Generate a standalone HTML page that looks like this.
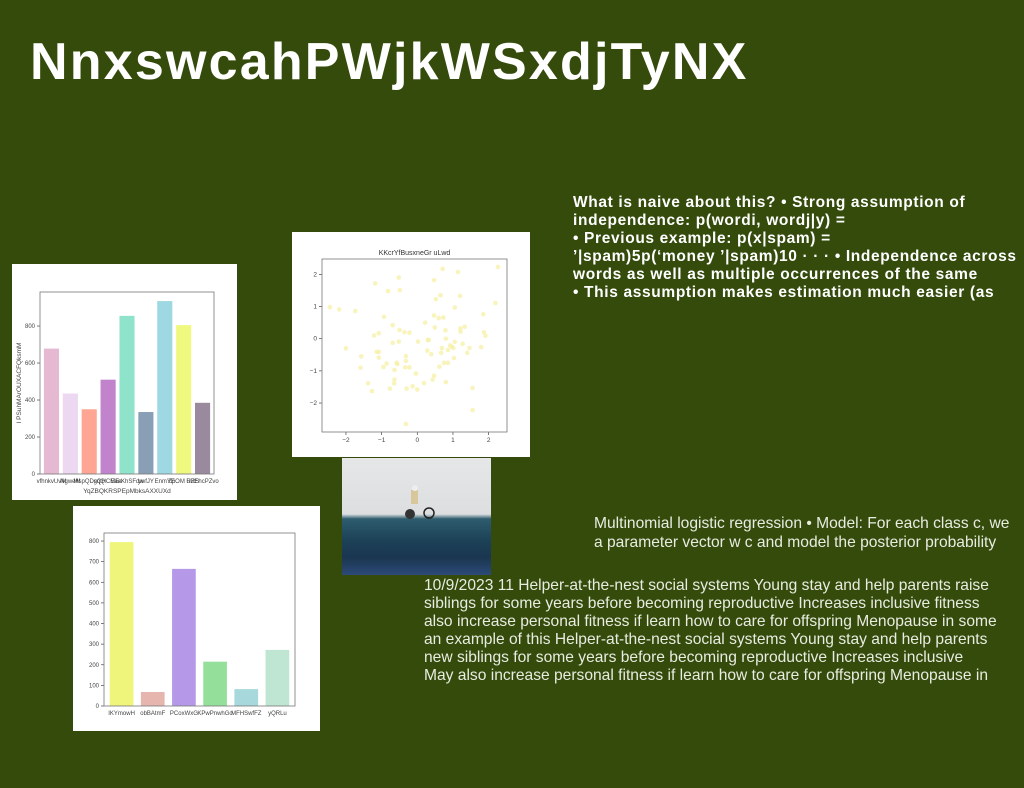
<!DOCTYPE html>
<html><head><meta charset="utf-8"><style>
body{margin:0;width:1024px;height:788px;background:#344b0c;position:relative;overflow:hidden;font-family:"Liberation Sans",sans-serif}
.abs{position:absolute}
.tl{position:absolute;white-space:nowrap}
.b{color:#fff;font-weight:bold;font-size:15.5px;letter-spacing:0.65px}
.r{color:#e9ece0;font-size:15.6px}
</style></head><body>
<div class="tl" style="left:30px;top:32px;font-size:52px;font-weight:bold;color:#fff;letter-spacing:2.2px">NnxswcahPWjkWSxdjTyNX</div>

<div>
<div class="tl b" style="left:573px;top:194px">What is naive about this? • Strong assumption of</div>
<div class="tl b" style="left:573px;top:212px">independence: p(wordi, wordj|y) =</div>
<div class="tl b" style="left:573px;top:230px">• Previous example: p(x|spam) =</div>
<div class="tl b" style="left:573px;top:248px">’|spam)5p(‘money ’|spam)10 · · · • Independence across</div>
<div class="tl b" style="left:573px;top:266px">words as well as multiple occurrences of the same</div>
<div class="tl b" style="left:573px;top:284px">• This assumption makes estimation much easier (as</div>
</div>

<div>
<div class="tl r" style="left:594px;top:515px">Multinomial logistic regression • Model: For each class c, we</div>
<div class="tl r" style="left:594px;top:534px">a parameter vector w c and model the posterior probability</div>
</div>

<div>
<div class="tl r" style="left:424px;top:577px">10/9/2023 11 Helper-at-the-nest social systems Young stay and help parents raise</div>
<div class="tl r" style="left:424px;top:595px">siblings for some years before becoming reproductive Increases inclusive fitness</div>
<div class="tl r" style="left:424px;top:613px">also increase personal fitness if learn how to care for offspring Menopause in some</div>
<div class="tl r" style="left:424px;top:631px">an example of this Helper-at-the-nest social systems Young stay and help parents</div>
<div class="tl r" style="left:424px;top:649px">new siblings for some years before becoming reproductive Increases inclusive</div>
<div class="tl r" style="left:424px;top:667px">May also increase personal fitness if learn how to care for offspring Menopause in</div>
</div>

<div class="abs" style="left:342px;top:458px;width:149px;height:117px;background:linear-gradient(#e6e7e9 0%,#dcdee0 48%,#2e5c6e 52%,#1d4258 70%,#1a3650 85%,#2c4a78 100%)">
<svg width="149" height="117" style="position:absolute;left:0;top:0">
<circle cx="68" cy="56" r="5" fill="#333"/><circle cx="87" cy="55" r="5" fill="none" stroke="#222" stroke-width="1.5"/>
<rect x="69" y="32" width="7" height="14" fill="#d8c79a"/><circle cx="73" cy="30" r="3" fill="#eee"/>
</svg></div>

<svg class="abs" style="left:0;top:0" width="1024" height="788">
<rect x="12" y="264" width="225" height="236" fill="#fff"/>
<rect x="292" y="232" width="238" height="225" fill="#fff"/>
<rect x="73" y="506" width="247" height="225" fill="#fff"/>
<g id="c1"></g><g id="c2"></g><g id="c3"></g>
</svg>

<script>
const c1Cats=["vfhnkvUvM","NgweM","MspQDsqQ","gQHCMEe","EaeKhSFdw","ywfJY","EnmYE","ZpOM URS","RZEhcPZvo"];
const c1Vals=[678,435,350,510,855,335,935,805,385];
const c1Ticks=[0,200,400,600,800];
const c1Colors=["#e6b9d2","#ecd8f0","#ffa593","#c083cc","#8fe3cb","#889fb6","#9ed9e3","#f0f97f","#9a8a9e"];

const spX=[-2.45,-2.19,-1.74,-2.0,-1.57,-1.59,-1.38,-1.27,-1.18,-1.21,-1.14,-1.08,-1.08,-1.08,-0.95,-0.93,-0.86,-0.82,-0.69,-0.69,-0.65,-0.64,-0.64,-0.56,-0.58,-0.77,-0.52,-0.52,-0.49,-0.50,-0.36,-0.34,-0.32,-0.32,-0.30,-0.32,-0.22,-0.22,-0.13,-0.04,0.02,0.0,0.19,0.22,0.28,0.30,0.32,0.39,0.43,0.47,0.47,0.49,0.47,0.52,0.60,0.62,0.65,0.67,0.69,0.73,0.71,0.75,0.79,0.80,0.80,0.86,0.86,0.92,0.97,1.01,1.03,1.05,1.05,1.14,1.20,1.21,1.21,1.27,1.33,1.40,1.46,1.55,1.55,1.79,1.85,1.87,1.91,2.19,2.26];
const spY=[0.98,0.91,0.86,-0.30,-0.55,-0.90,-1.39,-1.63,1.72,0.10,-0.41,-0.41,0.17,-0.59,-0.88,0.68,-0.77,1.48,0.42,-0.13,-1.39,-1.27,-0.97,-0.79,-0.75,-1.55,1.90,-0.09,1.51,0.27,0.20,-0.89,-0.69,-0.54,-1.55,-2.65,0.19,-0.89,-1.48,-1.08,-0.09,-1.58,-1.38,0.50,-0.37,-0.04,-0.04,-0.48,-1.27,-1.15,0.72,0.35,1.82,1.23,0.64,-0.87,1.35,-0.44,-0.29,0.66,2.17,-0.75,0.26,0.0,-1.35,-0.35,-0.75,-0.21,-0.25,-0.29,-0.60,0.97,-0.10,2.07,1.33,0.32,0.22,-0.16,0.37,-0.44,-0.29,-2.22,-1.53,-0.26,0.76,0.20,0.09,1.11,2.23];
const spTicks=[-2,-1,0,1,2];

const c3Cats=["IKYmowH","obBAtmF","PCoxWxG","KPwPnwhGo","MFHSwfFZ","yQRLu"];
const c3Vals=[795,68,665,215,82,272];
const c3Ticks=[0,100,200,300,400,500,600,700,800];
const c3Colors=["#eef57a","#e5b5ae","#b598e8","#94e09a","#a6d8dc","#bfe6d3"];

const NS="http://www.w3.org/2000/svg";
function mk(p,t,a,txt){const e=document.createElementNS(NS,t);for(const k in a)e.setAttribute(k,a[k]);if(txt!==undefined)e.textContent=txt;p.appendChild(e);return e;}

// chart 1
(function(){
const g=document.getElementById('c1');
const L=40,R=214,T=292,B=474,ymax=984;
const y=v=>B-(v/ymax)*(B-T);
const slot=(R-L-4)/c1Vals.length;
const x=i=>L+2+slot*i+slot/2;
c1Ticks.forEach(t=>{
 const tk=mk(g,'line',{x1:L-3,x2:L,y1:y(t),y2:y(t),stroke:'#444','stroke-width':0.7});
 
 const lb=mk(g,'text',{x:L-5,y:y(t)+2,'font-size':6,'text-anchor':'end',fill:'#444'},t);
 
});
c1Vals.forEach((v,i)=>{
 const r=mk(g,'rect',{x:x(i)-slot*0.4,y:y(v),width:slot*0.8,height:B-y(v),fill:c1Colors[i]});
 
 const lb=mk(g,'text',{x:x(i),y:B+9,'font-size':6,'text-anchor':'middle',fill:'#444'},c1Cats[i]);
 
});
const ax=mk(g,'rect',{x:L,y:T,width:R-L,height:B-T,fill:'none',stroke:'#777','stroke-width':0.8});

const xt=mk(g,'text',{x:(L+R)/2,y:B+19,'font-size':6.5,'text-anchor':'middle',fill:'#444'},'YqZBQKRSPEpMbksAXXUXd');

const yt=mk(g,'text',{x:0,y:0,'font-size':6.5,'text-anchor':'middle',fill:'#444',transform:`translate(21,${(T+B)/2}) rotate(-90)`},'I PSuhMArOUXACFQksmM');

})();

// scatter
(function(){
const g=document.getElementById('c2');
const L=322,R=507,T=259,B=432;
const x=v=>417.3+35.67*v, y=v=>338.7-32.17*v;
spTicks.forEach(t=>{
 const a=mk(g,'line',{x1:x(t),x2:x(t),y1:B,y2:B+3,stroke:'#444','stroke-width':0.7});
 
 const b=mk(g,'text',{x:x(t),y:B+10,'font-size':6.5,'text-anchor':'middle',fill:'#444'},t<0?'\u2212'+(-t):t);
 
 const c=mk(g,'line',{x1:L-3,x2:L,y1:y(t),y2:y(t),stroke:'#444','stroke-width':0.7});
 
 const d=mk(g,'text',{x:L-5,y:y(t)+2,'font-size':6.5,'text-anchor':'end',fill:'#444'},t<0?'\u2212'+(-t):t);
 
});
spX.forEach((v,i)=>{
 const p=mk(g,'circle',{cx:x(v),cy:y(spY[i]),r:2.3,fill:'#f6f0a6','fill-opacity':0.75});
 
});
const ax=mk(g,'rect',{x:L,y:T,width:R-L,height:B-T,fill:'none',stroke:'#777','stroke-width':0.8});

const tt=mk(g,'text',{x:(L+R)/2,y:255,'font-size':7,'text-anchor':'middle',fill:'#333'},'KKcrYfBusxneGr uLwd');

})();

// chart 3
(function(){
const g=document.getElementById('c3');
const L=104,R=295,T=533,B=706,ymax=839;
const y=v=>B-(v/ymax)*(B-T);
const slot=(R-L-4)/c3Vals.length;
const x=i=>L+2+slot*i+slot/2;
c3Ticks.forEach(t=>{
 const a=mk(g,'line',{x1:L-3,x2:L,y1:y(t),y2:y(t),stroke:'#444','stroke-width':0.7});
 
 const b=mk(g,'text',{x:L-5,y:y(t)+2,'font-size':6,'text-anchor':'end',fill:'#444'},t);
 
});
c3Vals.forEach((v,i)=>{
 const r=mk(g,'rect',{x:x(i)-slot*0.38,y:y(v),width:slot*0.76,height:B-y(v),fill:c3Colors[i]});
 
 const b=mk(g,'text',{x:x(i),y:B+9,'font-size':6,'text-anchor':'middle',fill:'#444'},c3Cats[i]);
 
});
const ax=mk(g,'rect',{x:L,y:T,width:R-L,height:B-T,fill:'none',stroke:'#777','stroke-width':0.8});

})();
</script>
</body></html>
